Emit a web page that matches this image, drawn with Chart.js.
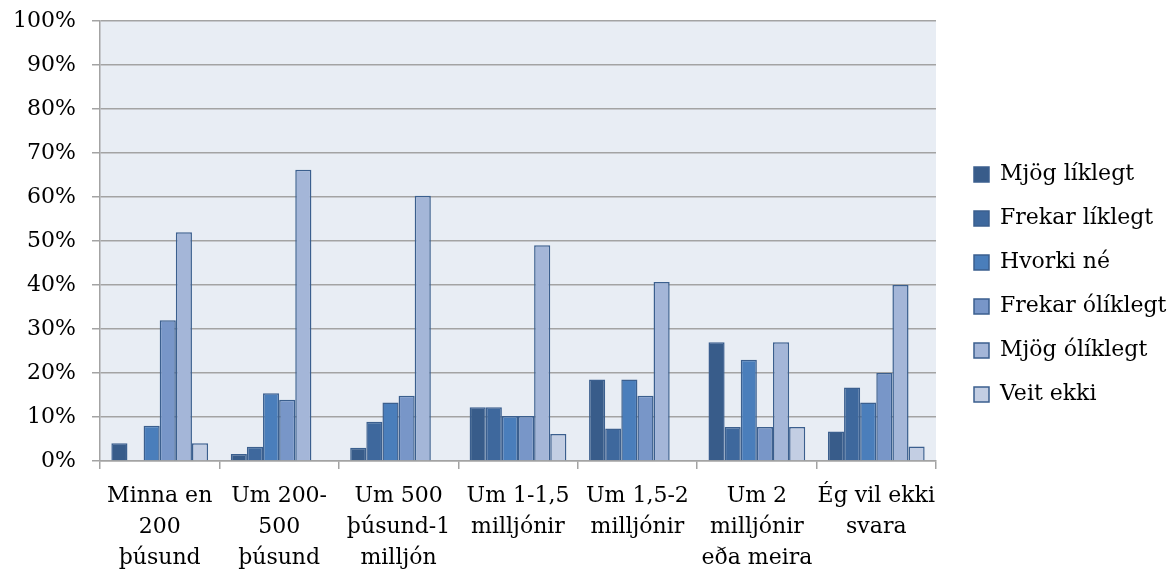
<!DOCTYPE html>
<html>
<head>
<meta charset="utf-8">
<script src="https://cdn.jsdelivr.net/npm/chart.js@4/dist/chart.umd.min.js"></script>
<style>
  html, body { margin: 0; padding: 0; background: #fff; }
  #wrap { width: 1173px; height: 570px; position: relative; }
</style>
</head>
<body>
<div id="wrap"><canvas id="incomeChart"></canvas></div>
<script>
const categories = [
  ["Minna en", "200", "þúsund"],
  ["Um 200-", "500", "þúsund"],
  ["Um 500", "þúsund-1", "milljón"],
  ["Um 1-1,5", "milljónir"],
  ["Um 1,5-2", "milljónir"],
  ["Um 2", "milljónir", "eða meira"],
  ["Ég vil ekki", "svara"]
];

const mjogLiklegt    = [4, 1.6, 3, 12.2, 18.5, 27, 6.7];
const frekarLiklegt  = [0, 3.2, 8.9, 12.2, 7.4, 7.7, 16.7];
const hvorkiNe       = [8, 15.4, 13.3, 10.2, 18.5, 23, 13.3];
const frekarOliklegt = [32, 13.9, 14.8, 10.2, 14.8, 7.7, 20];
const mjogOliklegt   = [52, 66.2, 60.3, 49, 40.7, 27, 40];
const veitEkki       = [4, 0, 0, 6.1, 0, 7.7, 3.3];

const FONT = "'DejaVu Serif', 'Liberation Serif', serif";
const GRID = "#a3a3a3";
const EDGE = "#3b5f8e";

// fill the plot area like the original
const plotBg = {
  id: "plotBg",
  beforeDraw(chart) {
    const { ctx, chartArea: a } = chart;
    ctx.save();
    ctx.fillStyle = "#e8edf4";
    ctx.fillRect(a.left, a.top, a.right - a.left, a.bottom - a.top);
    ctx.restore();
  }
};

// widen the legend box and nudge its items away from the plot
const legendPlace = {
  id: "legendPlace",
  beforeLayout(chart) {
    const lg = chart.legend;
    if (!lg || lg._patched) return;
    const origFit = lg.fit;
    lg.fit = function () {
      origFit.call(this);
      this.width = 237;
    };
    lg._patched = true;
  },
  afterLayout(chart) {
    const lg = chart.legend;
    lg.left += 16;
    lg.right += 16;
    lg.top -= 19;
    lg.bottom -= 19;
  }
};

function series(label, data, color) {
  return {
    label: label,
    data: data,
    backgroundColor: color,
    borderColor: EDGE,
    borderWidth: 1.5,
    borderSkipped: "bottom"
  };
}

Chart.defaults.color = "#000";
Chart.defaults.font.family = FONT;
Chart.defaults.font.size = 22;

new Chart(document.getElementById("incomeChart"), {
  type: "bar",
  data: {
    labels: categories,
    datasets: [
      series("Mjög líklegt", mjogLiklegt, "#385c8a"),
      series("Frekar líklegt", frekarLiklegt, "#3e689d"),
      series("Hvorki né", hvorkiNe, "#4a7ebb"),
      series("Frekar ólíklegt", frekarOliklegt, "#7896c8"),
      series("Mjög ólíklegt", mjogOliklegt, "#a4b6d8"),
      series("Veit ekki", veitEkki, "#c3cee3")
    ]
  },
  options: {
    responsive: true,
    maintainAspectRatio: false,
    animation: false,
    layout: { padding: { top: 21, left: 0, right: 0, bottom: -16 } },
    datasets: {
      bar: { categoryPercentage: 0.81, barPercentage: 1 }
    },
    plugins: {
      tooltip: { enabled: false },
      legend: {
        position: "right",
        labels: {
          boxWidth: 15,
          boxHeight: 15,
          padding: 22,
          font: { family: FONT, size: 22 }
        }
      }
    },
    scales: {
      x: {
        grid: {
          offset: true,
          drawOnChartArea: false,
          tickLength: 8,
          color: GRID,
          lineWidth: 1.5
        },
        border: { color: GRID, width: 1.5 },
        ticks: {
          maxRotation: 0,
          autoSkip: false,
          padding: 12,
          font: { family: FONT, size: 22, lineHeight: 1.41 }
        }
      },
      y: {
        min: 0,
        max: 100,
        grid: { color: GRID, lineWidth: 1.5, tickLength: 8 },
        border: { color: GRID, width: 1.5 },
        ticks: {
          stepSize: 10,
          padding: 16,
          callback: (v) => v + "%"
        },
        afterFit: (s) => {
          s.width = 100;
          // don't let the label padding push the plot down
          s.paddingTop = 0;
          s.paddingBottom = 0;
        }
      }
    }
  },
  plugins: [plotBg, legendPlace]
});
</script>
</body>
</html>
